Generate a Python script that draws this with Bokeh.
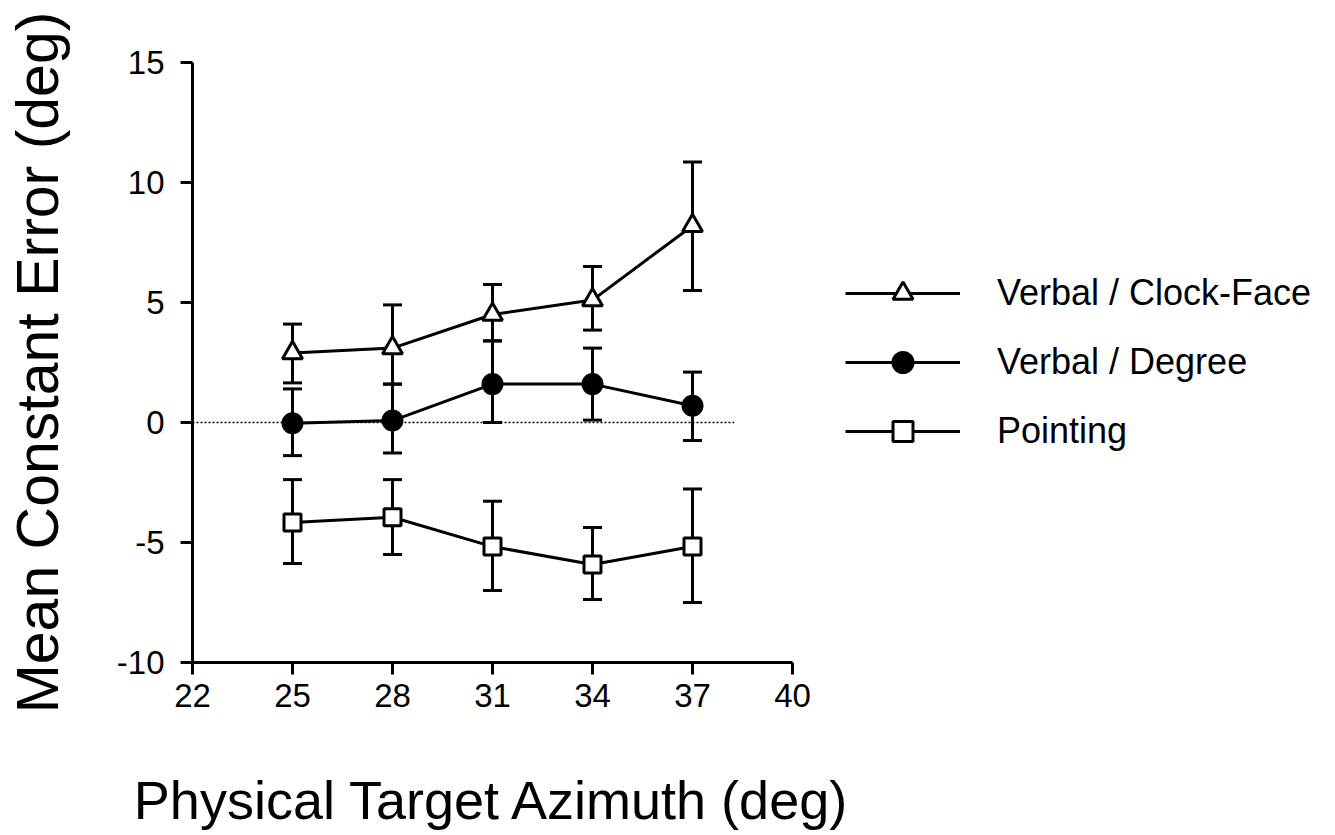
from bokeh.plotting import figure
from bokeh.models import (ColumnDataSource, Whisker, TeeHead, Range1d,
                          FixedTicker, Legend, LegendItem)
from bokeh.embed import file_html
from bokeh.resources import INLINE

# ---- data ----
azimuth = [25, 28, 31, 34, 37]

clock_mean = [2.9, 3.1, 4.5, 5.1, 8.2]
clock_upper = [4.1, 4.9, 5.75, 6.5, 10.85]
clock_lower = [1.65, 1.6, 3.4, 3.85, 5.5]

degree_mean = [-0.03, 0.08, 1.6, 1.6, 0.7]
degree_upper = [1.4, 1.6, 3.4, 3.1, 2.1]
degree_lower = [-1.38, -1.27, 0.0, 0.1, -0.75]

point_mean = [-4.17, -3.95, -5.17, -5.92, -5.17]
point_upper = [-2.38, -2.38, -3.28, -4.38, -2.77]
point_lower = [-5.88, -5.5, -7.0, -7.38, -7.5]

series_labels = ["Verbal / Clock-Face", "Verbal / Degree", "Pointing"]
x_ticks = [22, 25, 28, 31, 34, 37, 40]
y_ticks = [-10, -5, 0, 5, 10, 15]
y_tick_text = {t: str(t) for t in y_ticks}
zero_line_x = [22, 38.25]
zero_line_y = [0, 0]

FONT = "Liberation Sans"

p = figure(frame_width=600, frame_height=600, output_backend="svg",
           toolbar_location=None,
           x_range=Range1d(22, 40), y_range=Range1d(-10, 15),
           min_border_left=192, min_border_right=0,
           min_border_top=62, min_border_bottom=173)
p.xgrid.visible = False
p.ygrid.visible = False
p.outline_line_color = None
p.background_fill_color = "white"
p.border_fill_color = "white"

for ax in (p.xaxis[0], p.yaxis[0]):
    ax.axis_line_width = 3
    ax.axis_line_color = "black"
    ax.major_tick_line_width = 3
    ax.major_tick_line_color = "black"
    ax.major_tick_out = 12
    ax.major_tick_in = 0
    ax.minor_tick_line_color = None
    ax.major_label_text_font = FONT
    ax.major_label_text_font_size = "33px"
    ax.major_label_text_color = "black"
    ax.axis_label_text_font = FONT
    ax.axis_label_text_font_style = "normal"
    ax.axis_label_text_color = "black"

p.xaxis.ticker = FixedTicker(ticks=x_ticks)
p.yaxis.ticker = FixedTicker(ticks=y_ticks)
p.yaxis.major_label_overrides = y_tick_text
p.xaxis.major_label_standoff = 9
p.yaxis.major_label_standoff = 16
p.xaxis.axis_label = "Physical Target Azimuth (deg)"
p.yaxis.axis_label = "Mean Constant Error (deg)"
p.xaxis.axis_label_text_font_size = "54px"
p.yaxis.axis_label_text_font_size = "59px"
p.xaxis.axis_label_standoff = 60
p.yaxis.axis_label_standoff = 43

# zero reference line
p.line(zero_line_x, zero_line_y, line_dash="2 2", line_width=1.5, color="black")

specs = [
    (clock_mean, clock_upper, clock_lower, "triangle", 20, "white"),
    (degree_mean, degree_upper, degree_lower, "circle", 19, "black"),
    (point_mean, point_upper, point_lower, "square", 17, "white"),
]

items = []
for (mean, up, lo, marker, size, fill), label in zip(specs, series_labels):
    src = ColumnDataSource(dict(x=azimuth, y=mean, upper=up, lower=lo))
    w = Whisker(base="x", upper="upper", lower="lower", source=src,
                line_width=3, line_color="black",
                upper_head=TeeHead(size=19, line_width=3, line_color="black"),
                lower_head=TeeHead(size=19, line_width=3, line_color="black"))
    p.add_layout(w)
    ln = p.line("x", "y", source=src, line_width=3, color="black")
    sc = p.scatter("x", "y", source=src, marker=marker, size=size,
                   fill_color=fill, line_color="black", line_width=3)
    items.append(LegendItem(label=label, renderers=[ln, sc]))

legend = Legend(items=items, location=(53, 206), orientation="vertical",
                glyph_width=115, glyph_height=50, spacing=19,
                label_standoff=37, label_text_font=FONT,
                label_text_font_size="36px", label_text_color="black",
                padding=0, margin=0, border_line_color=None,
                background_fill_alpha=0)
p.add_layout(legend, "right")

open("out.html", "w").write(file_html(p, INLINE))
